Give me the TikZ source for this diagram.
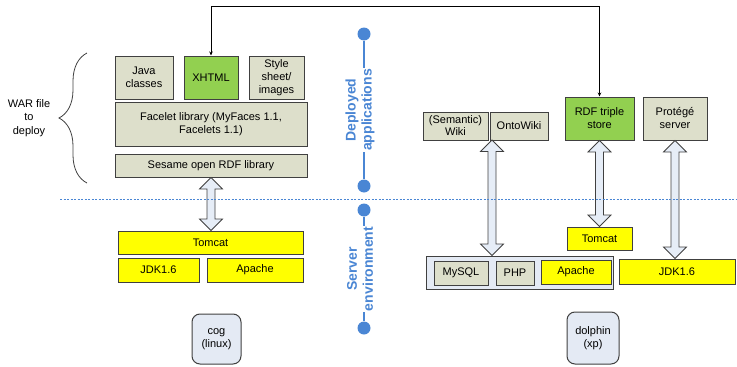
\documentclass[tikz,border=0pt]{standalone}
\usepackage{fontspec}
\setmainfont{Liberation Sans}
\usetikzlibrary{decorations.pathreplacing,calc,arrows.meta}
\definecolor{olivebox}{HTML}{DDDFCB}
\definecolor{greenbox}{HTML}{92D050}
\definecolor{yellowbox}{HTML}{FFFF00}
\definecolor{hostbox}{HTML}{E4EAF4}
\definecolor{arrowfill}{HTML}{E6EDF7}
\definecolor{lineblue}{HTML}{4A86D4}
\definecolor{edgegray}{HTML}{404040}

\tikzset{
  box/.style={draw=edgegray, line width=1pt, inner sep=1pt, align=center, font=\fontsize{11}{13}\selectfont},
  libbox/.style={box, fill=olivebox},
  appbox/.style={box, fill=greenbox},
  srvbox/.style={box, fill=yellowbox},
  hostnode/.style={box, fill=hostbox, rounded corners=8pt},
  dblarrow/.style={draw=edgegray, fill=arrowfill, line width=0.8pt, line join=miter},
  layerdot/.style={circle, fill=lineblue, inner sep=0pt, minimum size=13pt},
  layerlabel/.style={fill=white, text=lineblue, font=\fontsize{14}{16}\selectfont\bfseries, align=center, rotate=90, inner sep=1pt},
}

% vertical block arrow, #1 upper end, #2 lower end
\newcommand{\linkarrow}[2]{\draw[dblarrow] let \p1=(#1), \p2=(#2) in
  (\x1,\y1) -- (\x1+11.5pt,\y1-11.5pt) -- (\x1+4pt,\y1-11.5pt) -- (\x1+4pt,\y2+11.5pt)
  -- (\x1+11.5pt,\y2+11.5pt) -- (\x1,\y2) -- (\x1-11.5pt,\y2+11.5pt) -- (\x1-4pt,\y2+11.5pt)
  -- (\x1-4pt,\y1-11.5pt) -- (\x1-11.5pt,\y1-11.5pt) -- cycle;}

\begin{document}
\begin{tikzpicture}[x=1pt,y=-1pt]
  \useasboundingbox (0,0) rectangle (737,367);
  %
  % war file (cog)
  \node[libbox, minimum width=58pt, minimum height=43pt] (java) at (144,77.5) {Java\\classes};
  \node[appbox, minimum width=54pt, minimum height=43pt] (xhtml) at (211,77.5) {XHTML};
  \node[libbox, minimum width=55pt, minimum height=43pt] (style) at (276.5,77.5) {Style\\sheet/\\images};
  \node[libbox, minimum width=192pt, minimum height=44pt] (facelet) at (211,124) {Facelet library (MyFaces 1.1,\\Facelets 1.1)};
  \node[libbox, minimum width=192pt, minimum height=23pt] (sesame) at (211,165.5) {Sesame open RDF library};
  \draw[decorate, decoration={brace, amplitude=28pt}, edgegray, line width=0.8pt] (87,183) -- (87,53);
  \node[align=center, font=\fontsize{11}{13.5}\selectfont] (war) at (29,118) {WAR file\\to\\deploy};
  %
  % server side (cog)
  \node[srvbox, minimum width=185pt, minimum height=23pt] (tomcatL) at (210.5,242.5) {Tomcat};
  \node[srvbox, minimum width=81pt, minimum height=24pt] (jdkL) at (158.5,270) {JDK1.6};
  \node[srvbox, minimum width=96pt, minimum height=24pt] (apacheL) at (255,270) {Apache};
  \node[hostnode, minimum width=49pt, minimum height=50pt] (cog) at (216.5,339) {cog\\(linux)};
  %
  % applications (dolphin)
  \node[libbox, minimum width=65pt, minimum height=28pt, font=\fontsize{11}{12}\selectfont] (wiki) at (455.5,126) {(Semantic)\\Wiki};
  \node[libbox, minimum width=58pt, minimum height=28pt] (onto) at (519,126) {OntoWiki};
  \node[appbox, minimum width=69pt, minimum height=43pt] (rdf) at (599.5,118.5) {RDF triple\\store};
  \node[libbox, minimum width=64pt, minimum height=43pt] (protege) at (675,118.5) {Protégé\\server};
  %
  % server side (dolphin)
  \node[box, fill=hostbox, minimum width=187pt, minimum height=33pt] (lamp) at (519.5,272.5) {};
  \node[libbox, minimum width=54pt, minimum height=24pt] (mysql) at (461,273) {MySQL};
  \node[libbox, minimum width=38pt, minimum height=24pt] (php) at (515,273) {PHP};
  \node[srvbox, minimum width=70pt, minimum height=24pt] (apacheR) at (576,272) {Apache};
  \node[srvbox, minimum width=65pt, minimum height=23pt] (tomcatR) at (599.5,238.5) {Tomcat};
  \node[srvbox, minimum width=116pt, minimum height=25pt] (jdkR) at (677,271.5) {JDK1.6};
  \node[hostnode, minimum width=52pt, minimum height=52pt] (dolphin) at (593,338) {dolphin\\(xp)};
  %
  % block arrows
  \coordinate (wikiport) at (492,140);
  \linkarrow{sesame.south}{sesame.south |- tomcatL.north}
  \linkarrow{wikiport}{wikiport |- lamp.north}
  \linkarrow{rdf.south}{rdf.south |- tomcatR.north}
  \linkarrow{protege.south}{protege.south |- jdkR.north}
  %
  % deploy link
  \coordinate (bend) at (0,6);
  \draw[{Stealth[length=4pt,width=3.5pt]}-{Stealth[length=4pt,width=3.5pt]}, line width=0.8pt] (xhtml.north) -- (xhtml.north |- bend) -| (rdf.north);
  %
  % layers
  \draw[lineblue, dash pattern=on 2pt off 1.5pt, line width=0.7pt] (60,199) -- (737,199);
  \node[layerdot] (depA) at (364,34) {};
  \node[layerdot] (depB) at (364,186) {};
  \draw[lineblue, line width=1.3pt] (depA) -- (depB);
  \node[layerlabel] (deplabel) at (360,110) {Deployed\\applications};
  \node[layerdot] (srvA) at (364,210) {};
  \node[layerdot] (srvB) at (364,328) {};
  \draw[lineblue, line width=1.3pt] (srvA) -- (srvB);
  \node[layerlabel] (srvlabel) at (360,269) {Server\\environment};
\end{tikzpicture}
\end{document}
